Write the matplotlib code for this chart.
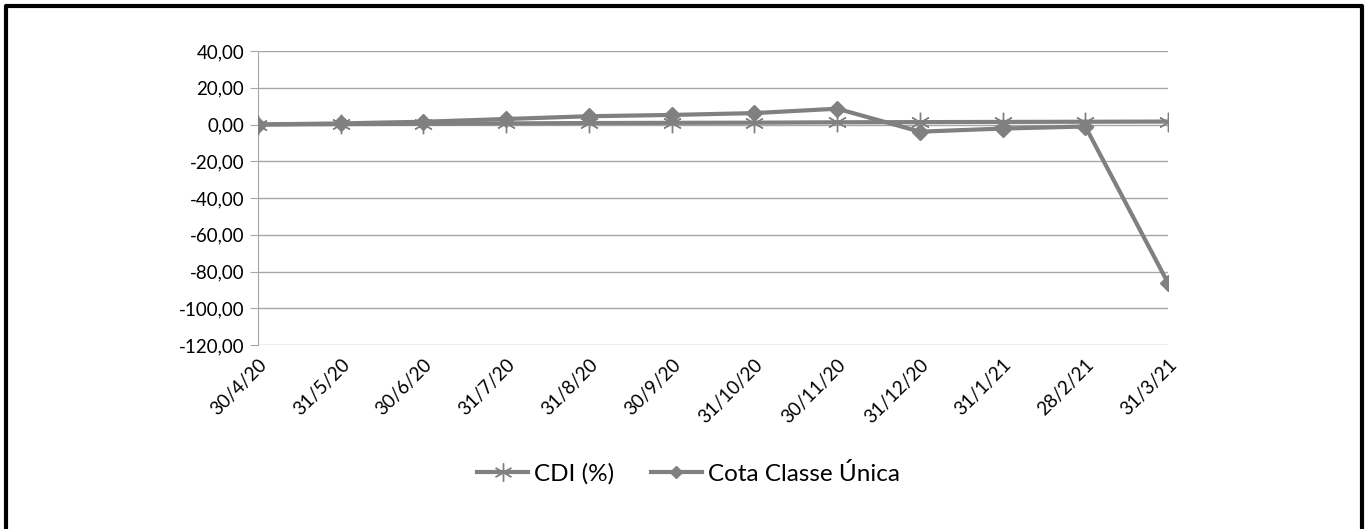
import matplotlib.pyplot as plt
from matplotlib.lines import Line2D

plt.rcParams['font.family'] = ['Lato', 'DejaVu Sans']

# --- Data ---------------------------------------------------------------
dates = ["30/4/20", "31/5/20", "30/6/20", "31/7/20", "31/8/20", "30/9/20",
         "31/10/20", "30/11/20", "31/12/20", "31/1/21", "28/2/21", "31/3/21"]
cdi = [0.0, 0.2, 0.4, 0.6, 0.8, 0.9, 1.0, 1.2, 1.3, 1.4, 1.5, 1.6]
cota = [0.0, 0.6, 1.5, 3.0, 4.5, 5.2, 6.2, 8.6, -3.9, -2.2, -1.1, -86.3]
yticks = [40, 20, 0, -20, -40, -60, -80, -100, -120]

GREY = "#808080"

fig = plt.figure(figsize=(13.66, 5.29), dpi=100)
ax = fig.add_axes([0.1889, 0.3478, 0.6662, 0.5558])

x = range(len(dates))
ax.plot(x, cdi, color=GREY, lw=3, marker=(6, 2, 0), ms=14, mew=1.0,
        mec=GREY, label="CDI (%)", zorder=3)
ax.plot(x, cota, color=GREY, lw=3, marker="D", ms=8, mec=GREY,
        label="Cota Classe Única", zorder=4)

ax.set_xlim(0, len(dates) - 1)
ax.set_ylim(-120, 40)
ax.set_yticks(yticks)
ax.set_yticklabels([f"{v:.2f}".replace(".", ",") for v in yticks])
ax.set_xticks(list(x))
ax.set_xticklabels(dates, rotation=45, ha="right", rotation_mode="anchor")
ax.tick_params(axis="y", length=6, color="#a6a6a6", labelsize=13.5, pad=4)
ax.tick_params(axis="x", length=0, labelsize=13.5, pad=8)

ax.grid(axis="y", color="#a6a6a6", lw=1)
ax.set_axisbelow(True)
for s in ["top", "right", "bottom"]:
    ax.spines[s].set_visible(False)
ax.spines["left"].set_color("#a6a6a6")

handles = [
    Line2D([], [], color=GREY, lw=3, marker=(6, 2, 0), ms=13, mew=1.0),
    Line2D([], [], color=GREY, lw=3, marker="D", ms=6),
]
fig.legend(handles, ["CDI (%)", "Cota Classe Única"], loc="center",
           bbox_to_anchor=(0.504, 0.104), ncol=2, frameon=False,
           fontsize=17.5, handlelength=2.1, columnspacing=1.5, handletextpad=0.25)

# outer frame (left, top, right)
fig.add_artist(Line2D([0.0044, 0.0044, 0.9974, 0.9974], [0.0, 0.9895, 0.9895, 0.0],
                      transform=fig.transFigure, color="black", lw=3))

fig.savefig("out.png", dpi=100)
